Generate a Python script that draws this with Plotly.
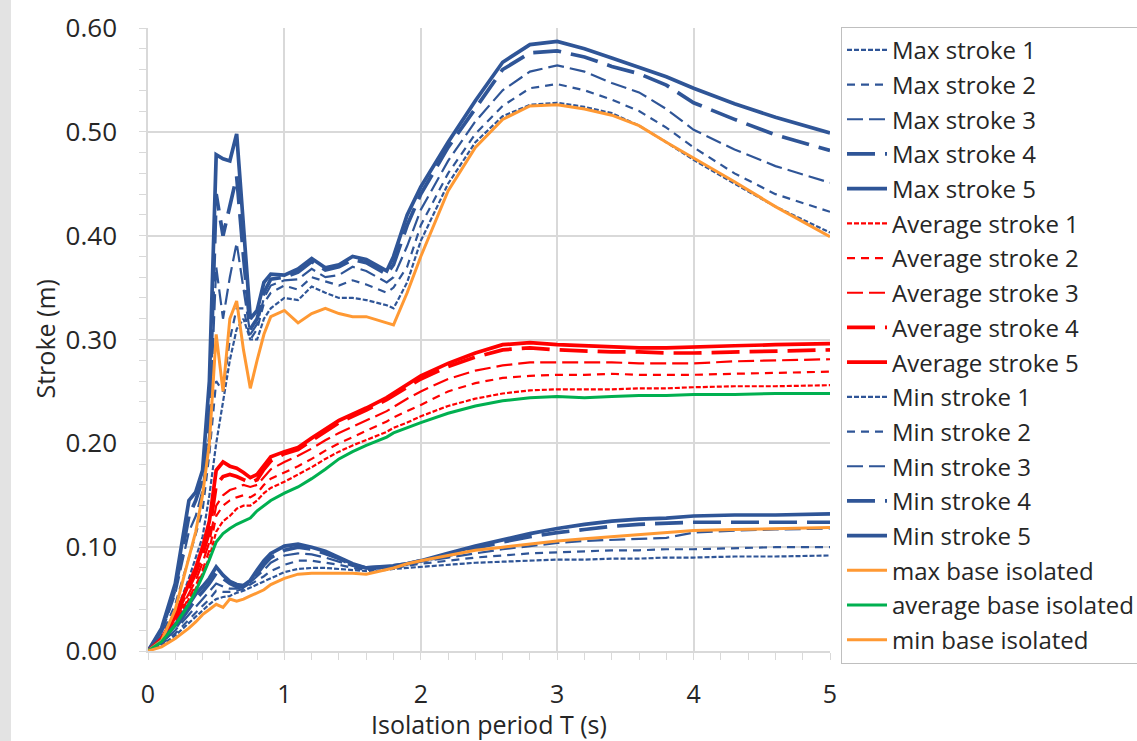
import plotly.graph_objects as go

# isolation period T (s)
T = [0, 0.1, 0.2, 0.3, 0.35, 0.4, 0.45, 0.5, 0.55, 0.6, 0.65, 0.7, 0.75, 0.8, 0.85, 0.9,
     1.0, 1.1, 1.2, 1.3, 1.4, 1.5, 1.6, 1.75, 1.8, 1.9, 2.0, 2.2, 2.4, 2.6, 2.8,
     3.0, 3.2, 3.4, 3.6, 3.8, 4.0, 4.3, 4.6, 5.0]

max_stroke_1 = [0, 0.012, 0.035, 0.07, 0.09, 0.11, 0.15, 0.2, 0.24, 0.28, 0.31, 0.32, 0.3, 0.3, 0.32, 0.33,
                0.34, 0.338, 0.351, 0.345, 0.34, 0.34, 0.338, 0.333, 0.33, 0.355, 0.395, 0.45, 0.49, 0.515, 0.526,
                0.528, 0.524, 0.518, 0.506, 0.49, 0.473, 0.45, 0.428, 0.403]
max_stroke_2 = [0, 0.015, 0.045, 0.09, 0.11, 0.135, 0.19, 0.26, 0.25, 0.3, 0.33, 0.33, 0.3, 0.31, 0.335, 0.345,
                0.352, 0.348, 0.36, 0.356, 0.352, 0.357, 0.353, 0.345, 0.35, 0.37, 0.41, 0.46, 0.498, 0.525, 0.542,
                0.546, 0.54, 0.531, 0.52, 0.504, 0.485, 0.46, 0.44, 0.423]
max_stroke_3 = [0, 0.018, 0.055, 0.115, 0.13, 0.155, 0.21, 0.37, 0.32, 0.36, 0.393, 0.35, 0.305, 0.315, 0.34, 0.352,
                0.357, 0.358, 0.368, 0.36, 0.362, 0.37, 0.366, 0.355, 0.36, 0.39, 0.425, 0.472, 0.51, 0.54, 0.558,
                0.564, 0.558, 0.547, 0.538, 0.522, 0.502, 0.483, 0.467, 0.451]
max_stroke_4 = [0, 0.02, 0.06, 0.13, 0.145, 0.165, 0.23, 0.44, 0.4, 0.43, 0.457, 0.38, 0.31, 0.32, 0.345, 0.358,
                0.36, 0.365, 0.375, 0.367, 0.37, 0.377, 0.374, 0.363, 0.372, 0.41, 0.44, 0.485, 0.522, 0.56, 0.576,
                0.578, 0.572, 0.563, 0.556, 0.545, 0.528, 0.512, 0.497, 0.482]
max_stroke_5 = [0, 0.022, 0.065, 0.145, 0.153, 0.174, 0.26, 0.478, 0.474, 0.472, 0.498, 0.41, 0.32, 0.328, 0.355, 0.363,
                0.362, 0.368, 0.378, 0.369, 0.372, 0.38, 0.377, 0.366, 0.38, 0.42, 0.447, 0.49, 0.53, 0.567, 0.584,
                0.587, 0.58, 0.571, 0.562, 0.553, 0.542, 0.527, 0.514, 0.499]

avg_stroke_1 = [0, 0.009, 0.027, 0.05, 0.06, 0.075, 0.09, 0.115, 0.125, 0.13, 0.137, 0.14, 0.14, 0.145, 0.152, 0.157,
                0.163, 0.17, 0.177, 0.185, 0.192, 0.198, 0.203, 0.211, 0.215, 0.22, 0.226, 0.236, 0.243, 0.248, 0.251,
                0.252, 0.252, 0.252, 0.253, 0.253, 0.254, 0.255, 0.255, 0.256]
avg_stroke_2 = [0, 0.01, 0.028, 0.052, 0.063, 0.078, 0.097, 0.13, 0.14, 0.145, 0.148, 0.15, 0.148, 0.152, 0.16, 0.166,
                0.172, 0.178, 0.185, 0.193, 0.2, 0.206, 0.212, 0.221, 0.225, 0.231, 0.237, 0.25, 0.258, 0.263, 0.265,
                0.266, 0.266, 0.267, 0.266, 0.266, 0.266, 0.267, 0.268, 0.269]
avg_stroke_3 = [0, 0.01, 0.03, 0.055, 0.068, 0.085, 0.105, 0.14, 0.15, 0.155, 0.157, 0.16, 0.158, 0.16, 0.168, 0.175,
                0.182, 0.188, 0.195, 0.203, 0.21, 0.216, 0.222, 0.231, 0.235, 0.243, 0.25, 0.262, 0.27, 0.275, 0.278,
                0.278, 0.278, 0.278, 0.277, 0.277, 0.277, 0.279, 0.28, 0.281]
avg_stroke_4 = [0, 0.011, 0.033, 0.06, 0.075, 0.093, 0.115, 0.16, 0.168, 0.17, 0.168, 0.165, 0.162, 0.165, 0.175, 0.183,
                0.19, 0.194, 0.203, 0.211, 0.22, 0.226, 0.232, 0.242, 0.246, 0.255, 0.262, 0.274, 0.283, 0.29, 0.292,
                0.29, 0.289, 0.288, 0.288, 0.287, 0.287, 0.288, 0.289, 0.29]
avg_stroke_5 = [0, 0.012, 0.035, 0.065, 0.08, 0.1, 0.125, 0.174, 0.182, 0.178, 0.176, 0.172, 0.167, 0.17, 0.178, 0.187,
                0.192, 0.196, 0.205, 0.213, 0.222, 0.228, 0.234, 0.244, 0.248, 0.257, 0.265, 0.277, 0.287, 0.295, 0.297,
                0.295, 0.294, 0.293, 0.292, 0.292, 0.293, 0.294, 0.295, 0.296]

min_stroke_1 = [0, 0.006, 0.015, 0.027, 0.033, 0.039, 0.045, 0.05, 0.052, 0.053, 0.056, 0.058, 0.061, 0.064, 0.067, 0.07,
                0.076, 0.079, 0.08, 0.08, 0.079, 0.078, 0.077, 0.078, 0.079, 0.08, 0.081, 0.083, 0.085, 0.086, 0.087,
                0.088, 0.088, 0.089, 0.089, 0.09, 0.09, 0.091, 0.091, 0.092]
min_stroke_2 = [0, 0.007, 0.017, 0.03, 0.037, 0.044, 0.05, 0.058, 0.057, 0.057, 0.058, 0.06, 0.064, 0.068, 0.072, 0.077,
                0.083, 0.087, 0.087, 0.085, 0.083, 0.08, 0.078, 0.079, 0.08, 0.082, 0.084, 0.087, 0.09, 0.092, 0.094,
                0.095, 0.096, 0.097, 0.097, 0.098, 0.098, 0.099, 0.1, 0.1]
min_stroke_3 = [0, 0.008, 0.02, 0.035, 0.043, 0.05, 0.057, 0.065, 0.062, 0.06, 0.06, 0.062, 0.066, 0.072, 0.078, 0.085,
                0.092, 0.094, 0.093, 0.09, 0.086, 0.082, 0.079, 0.08, 0.081, 0.083, 0.086, 0.09, 0.094, 0.098, 0.101,
                0.104, 0.106, 0.107, 0.108, 0.109, 0.114, 0.116, 0.117, 0.118]
min_stroke_4 = [0, 0.009, 0.022, 0.04, 0.05, 0.057, 0.065, 0.075, 0.07, 0.065, 0.062, 0.062, 0.066, 0.075, 0.083, 0.09,
                0.097, 0.1, 0.098, 0.094, 0.089, 0.083, 0.08, 0.081, 0.082, 0.084, 0.087, 0.092, 0.099, 0.105, 0.11,
                0.114, 0.117, 0.12, 0.122, 0.123, 0.124, 0.124, 0.124, 0.124]
min_stroke_5 = [0, 0.01, 0.025, 0.045, 0.055, 0.062, 0.07, 0.081, 0.073, 0.067, 0.064, 0.063, 0.068, 0.078, 0.087, 0.094,
                0.101, 0.103, 0.1, 0.096, 0.09, 0.084, 0.08, 0.081, 0.082, 0.084, 0.087, 0.094, 0.101, 0.107, 0.113,
                0.118, 0.122, 0.125, 0.127, 0.128, 0.13, 0.131, 0.131, 0.132]

max_base = [0, 0.01, 0.04, 0.09, 0.115, 0.15, 0.2, 0.305, 0.25, 0.32, 0.337, 0.29, 0.253, 0.28, 0.305, 0.322,
            0.328, 0.316, 0.325, 0.33, 0.325, 0.322, 0.322, 0.316, 0.314, 0.345, 0.38, 0.443, 0.485, 0.512, 0.525,
            0.526, 0.522, 0.516, 0.506, 0.49, 0.475, 0.452, 0.428, 0.399]
avg_base = [0, 0.009, 0.025, 0.045, 0.058, 0.072, 0.088, 0.105, 0.113, 0.118, 0.122, 0.125, 0.128, 0.135, 0.14, 0.145,
            0.152, 0.158, 0.166, 0.175, 0.185, 0.192, 0.198, 0.206, 0.21, 0.215, 0.22, 0.229, 0.236, 0.241, 0.244,
            0.245, 0.244, 0.245, 0.246, 0.246, 0.247, 0.247, 0.248, 0.248]
min_base = [0, 0.004, 0.012, 0.022, 0.028, 0.035, 0.04, 0.045, 0.042, 0.05, 0.048, 0.05, 0.053, 0.056, 0.059, 0.064,
            0.07, 0.074, 0.075, 0.075, 0.075, 0.075, 0.074, 0.078, 0.08, 0.084, 0.087, 0.092, 0.097, 0.1, 0.103,
            0.106, 0.108, 0.11, 0.112, 0.114, 0.116, 0.117, 0.118, 0.119]

BLUE = '#2F5597'
RED = '#FF0000'
ORANGE = '#FF9933'
GREEN = '#00B050'
FONT = 'Open Sans'
TXT = '#262626'

# dash pattern and width for stroke 1..5 (excel style: pattern scales with width)
dashes = ['5px,2px', '8px,6px', '16px,6px', '28px,10px', 'solid']
widths = [2.2, 2.2, 2.2, 3.7, 3.7]

series = []
for i, ys in enumerate([max_stroke_1, max_stroke_2, max_stroke_3, max_stroke_4, max_stroke_5]):
    series.append((f'Max stroke {i+1}', ys, BLUE, dashes[i], widths[i]))
for i, ys in enumerate([avg_stroke_1, avg_stroke_2, avg_stroke_3, avg_stroke_4, avg_stroke_5]):
    series.append((f'Average stroke {i+1}', ys, RED, dashes[i], widths[i]))
for i, ys in enumerate([min_stroke_1, min_stroke_2, min_stroke_3, min_stroke_4, min_stroke_5]):
    series.append((f'Min stroke {i+1}', ys, BLUE, dashes[i], widths[i]))
series.append(('max base isolated', max_base, ORANGE, 'solid', 3))
series.append(('average base isolated', avg_base, GREEN, 'solid', 3))
series.append(('min base isolated', min_base, ORANGE, 'solid', 3))

fig = go.Figure()
for name, ys, color, dash, width in series:
    fig.add_trace(go.Scatter(x=T, y=ys, name=name, mode='lines', legendgroup=name,
                             line=dict(color=color, dash=dash, width=width)))

grid = '#D9D9D9'
fig.update_xaxes(range=[0, 5], dtick=1, showgrid=True, gridcolor=grid, gridwidth=1.5,
                 showline=True, linecolor=grid, linewidth=1.5, zeroline=False, automargin=False,
                 ticks='outside', ticklen=7, tickcolor=grid, ticklabelstandoff=13,
                 minor=dict(dtick=0.2, ticks='outside', ticklen=7, tickcolor=grid, showgrid=False),
                 tickfont=dict(family=FONT, size=25, color=TXT))
fig.update_yaxes(range=[0, 0.6], dtick=0.1, tickformat='.2f', showgrid=True, gridcolor=grid, gridwidth=1.5,
                 showline=True, linecolor=grid, linewidth=1.5, zeroline=False, automargin=False,
                 ticks='outside', ticklen=7, tickcolor=grid, ticklabelstandoff=17,
                 minor=dict(dtick=0.02, ticks='outside', ticklen=7, tickcolor=grid, showgrid=False),
                 tickfont=dict(family=FONT, size=26, color=TXT))

# axis titles placed as annotations
fig.add_annotation(text='Isolation period T (s)', xref='paper', yref='paper', x=0.5, y=-73/623,
                   xanchor='center', yanchor='middle', showarrow=False, font=dict(family=FONT, size=25, color=TXT))
fig.add_annotation(text='Stroke (m)', xref='paper', yref='paper', x=-104/682, y=0.5, textangle=-90,
                   xanchor='center', yanchor='middle', showarrow=False, font=dict(family=FONT, size=25, color=TXT))

# grey strip at the left edge of the image
fig.add_shape(type='rect', xref='paper', yref='paper', x0=-148/682, x1=-137/682, y0=-90/623, y1=741/623,
              fillcolor='#E3E3E3', line_width=0, layer='below')

fig.update_layout(width=1137, height=741, plot_bgcolor='white', paper_bgcolor='white',
                  margin=dict(l=148, r=307, t=28, b=90, autoexpand=False),
                  legend=dict(x=693/682, y=1.002, xanchor='left', yanchor='top', maxheight=720,
                              bordercolor='#BFBFBF', borderwidth=1, bgcolor='white',
                              font=dict(family=FONT, size=24, color=TXT),
                              tracegroupgap=0.5, itemwidth=40))

# page body has a default margin; remove it so the figure sits at the window corner
fig.write_html("out.html", config={'displayModeBar': False},
               post_script="document.body.style.margin='0px';")
